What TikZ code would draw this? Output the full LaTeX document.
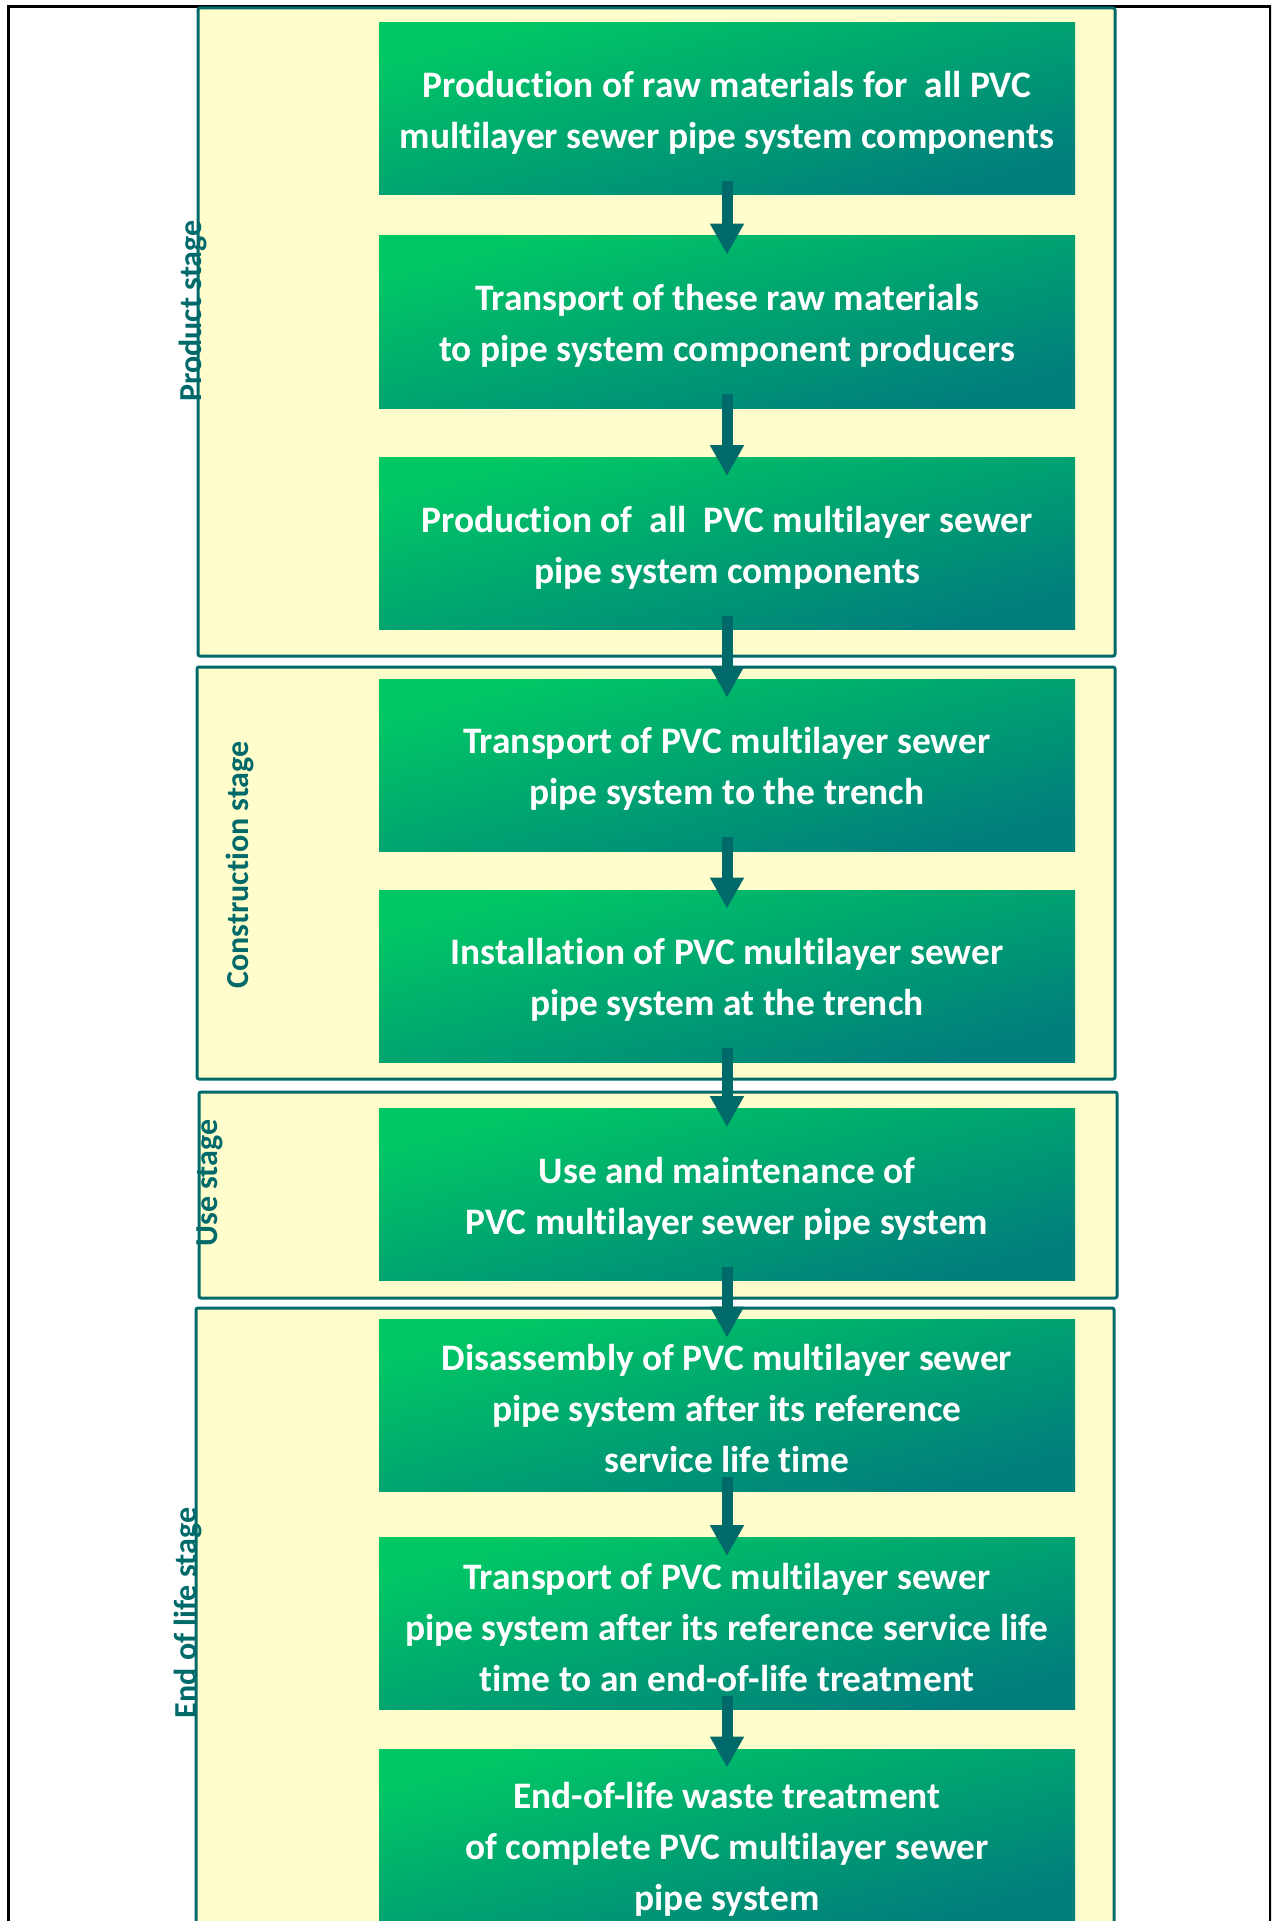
\documentclass[tikz,border=0pt]{standalone}
\usepackage{fontspec}
\setmainfont{Carlito}[Ligatures={NoCommon,NoContextual}, Contextuals={NoAlternate}]
\usetikzlibrary{arrows.meta}
\definecolor{paleyellow}{HTML}{FFFDCC}
\definecolor{tealline}{HTML}{006A6A}
\definecolor{gtop}{HTML}{00C864}
\definecolor{gbot}{HTML}{007D7D}
\newcommand{\tfix}[1]{\rule{0pt}{#1}}
\tikzset{
  stagebox/.style={draw=tealline, line width=1.5pt, fill=paleyellow, rounded corners=1pt},
  stagelabel/.style={rotate=90, text=tealline, font=\fontsize{16pt}{18pt}\selectfont\bfseries, inner sep=0pt},
  procbox/.style={minimum width=348pt, minimum height=86pt, inner sep=0pt,
    top color=gtop, bottom color=gbot, shading angle=15,
    text=white, align=center, font=\fontsize{18.7pt}{25.5pt}\selectfont\bfseries},
  flowarrow/.style={draw=tealline, line width=5.5pt, -{Triangle[width=16pt,length=15.5pt]}}
}
\begin{document}
\begin{tikzpicture}[x=0.5pt, y=-0.5pt]
\useasboundingbox (0,0) rectangle (1271,1921);
\clip (0,0) rectangle (1271,1921);
% outer frame
\draw[black, line width=1.5pt] (8,7) rectangle (1270,1960);
% stage boxes
\draw[stagebox] (198,8) rectangle (1115,656);
\draw[stagebox] (197,667) rectangle (1115,1079);
\draw[stagebox] (199,1092) rectangle (1117,1298);
\draw[stagebox] (196,1308) rectangle (1114,1960);
% stage labels
\node[stagelabel] (lp) at (193,311) {Product stage};
\node[stagelabel] (lc) at (240,865) {Construction stage};
\node[stagelabel] (lu) at (210,1183) {Use stage};
\node[stagelabel] (le) at (188,1613) {End of life stage};
% process boxes
\node[procbox] (b1) at (727,109) {\tfix{17pt}Production of raw materials for\ \ all PVC\\multilayer sewer pipe system components};
\node[procbox] (b2) at (727,322) {\tfix{17pt}Transport of these raw materials\\to pipe system component producers};
\node[procbox] (b3) at (727,543.5) {\tfix{17pt}Production of\ \ all\ \ PVC multilayer sewer\\pipe system components};
\node[procbox] (b4) at (727,765) {\tfix{17pt}Transport of PVC multilayer sewer\\pipe system to the trench};
\node[procbox] (b5) at (727,976) {\tfix{17pt}Installation of PVC multilayer sewer\\pipe system at the trench};
\node[procbox] (b6) at (727,1194.5) {\tfix{17pt}Use and maintenance of\\PVC multilayer sewer pipe system};
\node[procbox] (b7) at (727,1405) {\tfix{17pt}Disassembly of PVC multilayer sewer\\pipe system after its reference\\service life time};
\node[procbox] (b8) at (727,1623.5) {\tfix{17pt}Transport of PVC multilayer sewer\\pipe system after its reference service life\\time to an end-of-life treatment};
\node[procbox] (b9) at (727,1835) {\tfix{27pt}End-of-life waste treatment\\of complete PVC multilayer sewer\\pipe system};
% arrows
\foreach \a/\b in {b1/b2,b2/b3,b3/b4,b4/b5,b5/b6,b6/b7,b7/b8,b8/b9}{
  \draw[flowarrow] ([yshift=7pt]\a.south) -- ([yshift=-9.5pt]\b.north);
}
\end{tikzpicture}
\end{document}
